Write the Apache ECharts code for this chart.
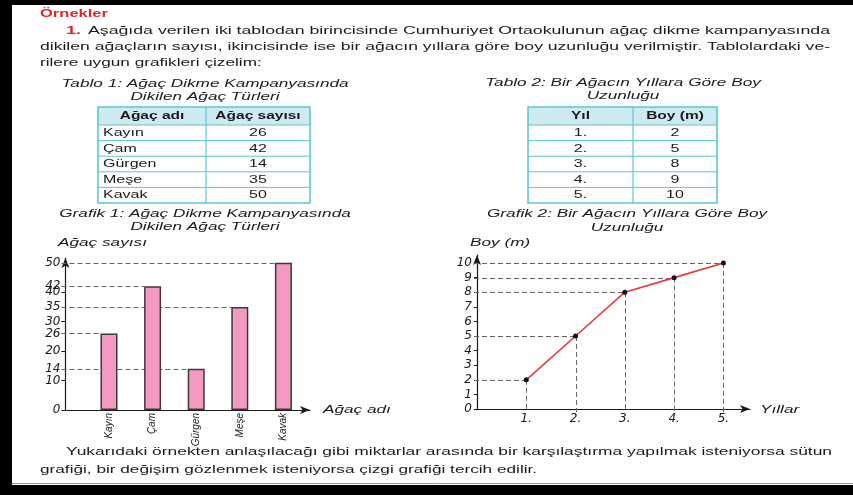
<!DOCTYPE html>
<html><head><meta charset="utf-8">
<script src="https://cdn.jsdelivr.net/npm/echarts@6/dist/echarts.min.js"></script>
<style>html,body{margin:0;padding:0;background:#fff}#c{width:853px;height:495px}</style>
</head><body><div id="c"></div>
<script>
// ---- data ----
const treeNames = ['Kayın', 'Çam', 'Gürgen', 'Meşe', 'Kavak'];
const treeCounts = [26, 42, 14, 35, 50];
const barTickLabels = [0, 10, 14, 20, 26, 30, 35, 40, 42, 50];
const barTickMarks = [0, 10, 20, 30, 40];
const years = ['1.', '2.', '3.', '4.', '5.'];
const heights = [2, 5, 8, 9, 10];
const lineTickLabels = [0, 1, 2, 3, 4, 5, 6, 7, 8, 9, 10];
const table1Header = ['Ağaç adı', 'Ağaç sayısı'];
const table2Header = ['Yıl', 'Boy (m)'];

const heading = 'Örnekler';
const introLines = [
  'Aşağıda verilen iki tablodan birincisinde Cumhuriyet Ortaokulunun ağaç dikme kampanyasında',
  'dikilen ağaçların sayısı, ikincisinde ise bir ağacın yıllara göre boy uzunluğu verilmiştir. Tablolardaki ve-',
  'rilere uygun grafikleri çizelim:'
];
const table1Title = ['Tablo 1: Ağaç Dikme Kampanyasında', 'Dikilen Ağaç Türleri'];
const table2Title = ['Tablo 2: Bir Ağacın Yıllara Göre Boy', 'Uzunluğu'];
const chart1Title = ['Grafik 1: Ağaç Dikme Kampanyasında', 'Dikilen Ağaç Türleri'];
const chart2Title = ['Grafik 2: Bir Ağacın Yıllara Göre Boy', 'Uzunluğu'];
const outroLines = [
  'Yukarıdaki örnekten anlaşılacağı gibi miktarlar arasında bir karşılaştırma yapılmak isteniyorsa sütun',
  'grafiği, bir değişim gözlenmek isteniyorsa çizgi grafiği tercih edilir.'
];

// ---- helpers ----
const FAM = '"Liberation Sans", Arial, Helvetica, sans-serif';
const S = 1.72; // horizontal stretch of the printed page
const TXT = '#1a1a1a';
const RED = '#e4232b';
const CYAN = '#5cc6d6';
const mctx = document.createElement('canvas').getContext('2d');
function measure(t, font) { mctx.font = font; return mctx.measureText(t).width; }
function T(text, x, y, o) {
  o = o || {};
  const size = o.size || 10;
  const font = (o.italic ? 'italic ' : '') + (o.bold ? 'bold ' : '') + size + 'px ' + FAM;
  const sx = o.w ? o.w / measure(text, font) : (o.s || S);
  const al = o.align || 'left';
  return {
    type: 'text', x: x, y: y, scaleX: sx, silent: true, z: 10,
    style: { text: text, font: font, fill: o.color || TXT,
      textAlign: al, align: al, textVerticalAlign: 'middle', verticalAlign: 'middle' }
  };
}
function table(x0, xd, x1, y0, headH, rowH, header, rows, firstLeft) {
  const els = [];
  const nRows = rows.length;
  const yEnd = y0 + headH + nRows * rowH;
  els.push({ type: 'rect', shape: { x: x0, y: y0, width: x1 - x0, height: headH }, style: { fill: '#cdeaf0' }, silent: true });
  for (let i = 1; i < nRows; i++) {
    const y = y0 + headH + i * rowH;
    els.push({ type: 'line', shape: { x1: x0, y1: y, x2: x1, y2: y }, style: { stroke: CYAN, lineWidth: 1 }, silent: true });
  }
  els.push({ type: 'line', shape: { x1: x0, y1: y0 + headH, x2: x1, y2: y0 + headH }, style: { stroke: CYAN, lineWidth: 1.2 }, silent: true });
  els.push({ type: 'line', shape: { x1: xd, y1: y0, x2: xd, y2: yEnd }, style: { stroke: CYAN, lineWidth: 1.2 }, silent: true });
  els.push({ type: 'rect', shape: { x: x0, y: y0, width: x1 - x0, height: yEnd - y0 }, style: { fill: 'none', stroke: CYAN, lineWidth: 1.6 }, silent: true });
  const c1 = (x0 + xd) / 2, c2 = (xd + x1) / 2;
  els.push(T(header[0], c1, y0 + headH / 2 + 0.5, { bold: true, align: 'center', size: 10, s: 1.55 }));
  els.push(T(header[1], c2, y0 + headH / 2 + 0.5, { bold: true, align: 'center', size: 10, s: 1.55 }));
  rows.forEach(function (r, i) {
    const y = y0 + headH + (i + 0.5) * rowH + 0.5;
    if (firstLeft) els.push(T(String(r[0]), x0 + 5, y, { size: 10, s: 1.6 }));
    else els.push(T(String(r[0]), c1, y, { size: 10, s: 1.6, align: 'center' }));
    els.push(T(String(r[1]), c2, y, { size: 10, s: 1.6, align: 'center' }));
  });
  return els;
}

const graphics = [
  { type: 'rect', shape: { x: 0, y: 0, width: 853, height: 5 }, style: { fill: '#000' }, silent: true },
  { type: 'rect', shape: { x: 0, y: 0, width: 12, height: 495 }, style: { fill: '#000' }, silent: true },
  { type: 'rect', shape: { x: 0, y: 485, width: 853, height: 10 }, style: { fill: '#000' }, silent: true },
  { type: 'line', shape: { x1: 12, y1: 483.5, x2: 853, y2: 483.5 }, style: { stroke: '#9a9a9a', lineWidth: 1 }, silent: true },
  T(heading, 40, 13.5, { bold: true, color: RED, w: 68, size: 11.5 }),
  T('1.', 66, 31, { bold: true, color: RED, size: 10.5 }),
  T(introLines[0], 88, 31, { w: 742 }),
  T(introLines[1], 40, 47, { w: 790 }),
  T(introLines[2], 40, 63),
  T(table1Title[0], 205, 84, { italic: true, align: 'center' }),
  T(table1Title[1], 205, 97, { italic: true, align: 'center' }),
  T(table2Title[0], 623, 83, { italic: true, align: 'center' }),
  T(table2Title[1], 623, 96, { italic: true, align: 'center' }),
  T(chart1Title[0], 205, 214, { italic: true, align: 'center' }),
  T(chart1Title[1], 205, 227, { italic: true, align: 'center' }),
  T(chart2Title[0], 627, 214, { italic: true, align: 'center' }),
  T(chart2Title[1], 627, 228, { italic: true, align: 'center' }),
  T('Ağaç sayısı', 58, 243, { italic: true }),
  T('Boy (m)', 470, 243, { italic: true }),
  T('Ağaç adı', 323, 410, { italic: true }),
  T('Yıllar', 760, 410, { italic: true }),
  T(outroLines[0], 66, 452, { w: 766 }),
  T(outroLines[1], 40, 470)
].concat(
  table(98, 206, 310, 107, 18, 15.6, table1Header, treeNames.map(function (n, i) { return [n, treeCounts[i]]; }), true),
  table(528, 633, 717, 107, 18, 15.6, table2Header, years.map(function (y, i) { return [y, heights[i]]; }), false)
);

const BAR_W = 17;
const axisLineStyle = { show: true, lineStyle: { color: '#1a1a1a', width: 1.2 }, symbol: ['none', 'arrow'], symbolSize: [6, 10] };
const labFont = { fontFamily: '"DejaVu Sans", sans-serif', fontStyle: 'italic', fontSize: 12, color: '#1a1a1a' };
const dash = { stroke: '#666', lineWidth: 1, lineDash: [5, 3] };

const option = {
  backgroundColor: '#fff',
  animation: false,
  graphic: { elements: graphics },
  grid: [
    { left: 65.4, top: 258, width: 244.6, height: 152, containLabel: false, outerBoundsMode: 'none' },
    { left: 477, top: 255, width: 273, height: 154, containLabel: false, outerBoundsMode: 'none' }
  ],
  xAxis: [
    { gridIndex: 0, type: 'value', min: 0, max: 5.61, splitLine: { show: false },
      axisLine: axisLineStyle, axisTick: { show: false },
      axisLabel: { customValues: [1, 2, 3, 4, 5], formatter: function (v) { return treeNames[v - 1] || ''; },
        rotate: 90, margin: 3, fontFamily: FAM, fontStyle: 'italic', fontSize: 10, color: '#1a1a1a' } },
    { gridIndex: 1, type: 'value', min: 0, max: 5.54, splitLine: { show: false },
      axisLine: axisLineStyle, axisTick: { show: false },
      axisLabel: Object.assign({ customValues: [1, 2, 3, 4, 5], formatter: function (v) { return years[v - 1] || ''; }, margin: 4 }, labFont) }
  ],
  yAxis: [
    { gridIndex: 0, type: 'value', min: 0, max: 51.6, splitLine: { show: false },
      axisLine: axisLineStyle,
      axisTick: { show: true, customValues: barTickMarks, length: 4, lineStyle: { color: '#1a1a1a' } },
      axisLabel: Object.assign({ customValues: barTickLabels, margin: 5 }, labFont) },
    { gridIndex: 1, type: 'value', min: 0, max: 10.55, splitLine: { show: false },
      axisLine: axisLineStyle,
      axisTick: { show: true, customValues: lineTickLabels, length: 3, lineStyle: { color: '#1a1a1a' } },
      axisLabel: Object.assign({ customValues: lineTickLabels, margin: 5 }, labFont) }
  ],
  series: [
    { type: 'custom', xAxisIndex: 0, yAxisIndex: 0, z: 1, silent: true,
      data: treeCounts.map(function (v, i) { return [i + 1, v]; }),
      renderItem: function (params, api) {
        const p = api.coord([api.value(0), api.value(1)]);
        const cs = params.coordSys;
        return { type: 'line', shape: { x1: cs.x - 4, y1: Math.round(p[1]) + 0.5, x2: p[0] - BAR_W / 2, y2: Math.round(p[1]) + 0.5 }, style: dash };
      } },
    { type: 'bar', xAxisIndex: 0, yAxisIndex: 0, z: 3, barWidth: BAR_W,
      data: treeCounts.map(function (v, i) { return [i + 1, v]; }),
      itemStyle: { color: '#f49ac2', borderColor: '#3a3a3a', borderWidth: 1.5 } },
    { type: 'custom', xAxisIndex: 1, yAxisIndex: 1, z: 1, silent: true,
      data: heights.map(function (v, i) { return [i + 1, v]; }),
      renderItem: function (params, api) {
        const p = api.coord([api.value(0), api.value(1)]);
        const o = api.coord([0, 0]);
        const y = Math.round(p[1]) + 0.5, x = Math.round(p[0]) + 0.5;
        return { type: 'group', children: [
          { type: 'line', shape: { x1: o[0] - 3, y1: y, x2: p[0], y2: y }, style: dash },
          { type: 'line', shape: { x1: x, y1: p[1], x2: x, y2: o[1] + 3 }, style: dash }
        ] };
      } },
    { type: 'line', xAxisIndex: 1, yAxisIndex: 1, z: 3,
      data: heights.map(function (v, i) { return [i + 1, v]; }),
      lineStyle: { color: '#e8383d', width: 1.6 },
      symbol: 'circle', symbolSize: 5, itemStyle: { color: '#111', borderWidth: 0 } }
  ]
};
const chart = echarts.init(document.getElementById('c'), null, { renderer: 'canvas' });
chart.setOption(option);
</script>
</body></html>
